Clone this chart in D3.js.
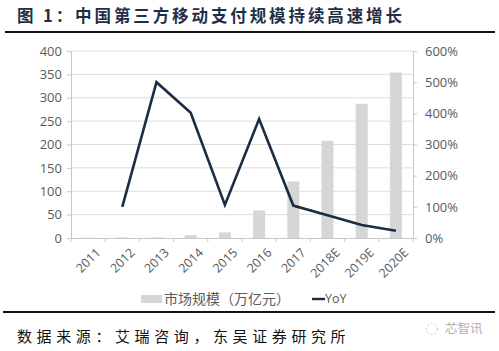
<!DOCTYPE html>
<html>
<head>
<meta charset="utf-8">
<script src="https://cdn.jsdelivr.net/npm/d3@7"></script>
<style>
  html, body { margin: 0; padding: 0; background: #fff; }
  svg { display: block; }
</style>
</head>
<body>
<div id="chart"></div>
<script>
// chart data
const years = ["2011", "2012", "2013", "2014", "2015", "2016", "2017", "2018E", "2019E", "2020E"];
const marketSize = [1, 1.5, 1.3, 6, 12, 59, 121, 208, 287, 354];   // 万亿元
const yoy = [null, 100, 500, 402, 106, 382, 104, 73, 42, 23];         // %
const leftTicks = [0, 50, 100, 150, 200, 250, 300, 350, 400];
const rightTicks = [0, 100, 200, 300, 400, 500, 600];

const width = 499, height = 351;
const margin = { left: 71, right: 86, top: 51, bottom: 113 };
const plotW = width - margin.left - margin.right;
const plotH = height - margin.top - margin.bottom;

const svg = d3.select("#chart").append("svg")
    .attr("width", width)
    .attr("height", height)
    .attr("font-family", "'Open Sans', 'Noto Sans CJK SC', sans-serif");

// title + rules
svg.append("text")
    .attr("x", 17).attr("y", 22)
    .attr("font-family", "'Noto Sans CJK SC', sans-serif")
    .attr("font-weight", "bold")
    .attr("font-size", 16.5)
    .attr("letter-spacing", 2.9)
    .attr("fill", "#1f2f4a")
    .text("图 1：中国第三方移动支付规模持续高速增长");

svg.append("line")
    .attr("x1", 5).attr("x2", 495).attr("y1", 32).attr("y2", 32)
    .attr("stroke", "#111").attr("stroke-width", 2);

svg.append("line")
    .attr("x1", 3).attr("x2", 495).attr("y1", 312).attr("y2", 312)
    .attr("stroke", "#111").attr("stroke-width", 2.2);

const g = svg.append("g").attr("transform", `translate(${margin.left},${margin.top})`);

const xPt = d3.scaleBand().domain(years).range([0, plotW]);
const yL = d3.scaleLinear().domain([0, 400]).range([plotH, 0]);
const yR = d3.scaleLinear().domain([0, 600]).range([plotH, 0]);

// gridlines
g.append("g")
    .selectAll("line")
    .data(leftTicks.slice(1))
    .join("line")
    .attr("x1", 0).attr("x2", plotW)
    .attr("y1", d => yL(d)).attr("y2", d => yL(d))
    .attr("stroke", "#dcdcdc").attr("stroke-width", 1);

// bars
g.append("g")
    .selectAll("rect")
    .data(marketSize)
    .join("rect")
    .attr("x", (d, i) => xPt(years[i]) + xPt.bandwidth() / 2 - 6)
    .attr("width", 12)
    .attr("y", d => yL(d))
    .attr("height", d => plotH - yL(d))
    .attr("fill", "#d6d6d6");

// YoY line
const line = d3.line()
    .defined(d => d[1] != null)
    .x(d => xPt(d[0]) + xPt.bandwidth() / 2)
    .y(d => yR(d[1]));

g.append("path")
    .datum(years.map((y, i) => [y, yoy[i]]))
    .attr("d", line)
    .attr("fill", "none")
    .attr("stroke", "#1b2d45")
    .attr("stroke-width", 2.6)
    .attr("stroke-linejoin", "miter");

// axes
const axisColor = "#c8c8c8";
const labelColor = "#5a5a5a";

const leftAxis = g.append("g")
    .call(d3.axisLeft(yL).tickValues(leftTicks).tickSize(4).tickPadding(5));
const rightAxis = g.append("g")
    .attr("transform", `translate(${plotW},0)`)
    .call(d3.axisRight(yR).tickValues(rightTicks).tickSize(4).tickPadding(8).tickFormat(d => d + "%"));
const bottomAxis = g.append("g")
    .attr("transform", `translate(0,${plotH})`)
    .call(d3.axisBottom(xPt).tickSize(0).tickPadding(6));

[leftAxis, rightAxis].forEach(a => {
    a.select(".domain").attr("stroke", axisColor);
    a.selectAll(".tick line").attr("stroke", axisColor);
    a.selectAll(".tick text")
        .attr("fill", labelColor)
        .attr("font-size", 13)
        .attr("font-family", "'Open Sans', sans-serif");
});

bottomAxis.select(".domain").attr("stroke", axisColor);
// band boundary ticks
bottomAxis.append("g")
    .selectAll("line")
    .data(years.slice(1).concat(["end"]))
    .join("line")
    .attr("x1", d => d === "end" ? plotW : xPt(d))
    .attr("x2", d => d === "end" ? plotW : xPt(d))
    .attr("y1", 0).attr("y2", 4)
    .attr("stroke", axisColor);
bottomAxis.append("line")
    .attr("x1", 0).attr("x2", 0).attr("y1", 0).attr("y2", 4)
    .attr("stroke", axisColor);

bottomAxis.selectAll(".tick text")
    .attr("fill", labelColor)
    .attr("font-size", 12.5)
    .attr("font-family", "'Open Sans', sans-serif")
    .attr("text-anchor", "end")
    .attr("dy", "0.35em")
    .attr("transform", "translate(6,8) rotate(-45)");

// legend
const legend = svg.append("g").attr("transform", "translate(141,299)");
legend.append("rect")
    .attr("x", 0).attr("y", -4).attr("width", 21).attr("height", 8)
    .attr("fill", "#d6d6d6");
legend.append("text")
    .attr("x", 23).attr("y", 0).attr("dy", "0.35em")
    .attr("font-size", 14)
    .attr("font-family", "'Noto Sans CJK SC', sans-serif")
    .attr("fill", labelColor)
    .text("市场规模（万亿元）");
legend.append("line")
    .attr("x1", 171).attr("x2", 184).attr("y1", 0).attr("y2", 0)
    .attr("stroke", "#1b2d45").attr("stroke-width", 2.4);
legend.append("text")
    .attr("x", 184).attr("y", 0).attr("dy", "0.35em")
    .attr("font-size", 12.5)
    .attr("fill", labelColor)
    .text("YoY");

// source note
svg.append("text")
    .attr("x", 17).attr("y", 342)
    .attr("font-family", "'Noto Sans CJK SC', sans-serif")
    .attr("font-size", 15)
    .attr("letter-spacing", 4.6)
    .attr("fill", "#111")
    .text("数据来源：艾瑞咨询，东吴证券研究所");

// watermark
const wm = svg.append("g").attr("transform", "translate(432,329)");
wm.append("circle").attr("cx", 0).attr("cy", 0).attr("r", 5.5)
    .attr("fill", "none").attr("stroke", "#c8c8c8").attr("stroke-dasharray", "2,2");
wm.append("text")
    .attr("x", 13).attr("y", 0).attr("dy", "0.35em")
    .attr("font-size", 12.5)
    .attr("font-family", "'Noto Sans CJK SC', sans-serif")
    .attr("fill", "#b0b0b0")
    .text("芯智讯");
</script>
</body>
</html>
